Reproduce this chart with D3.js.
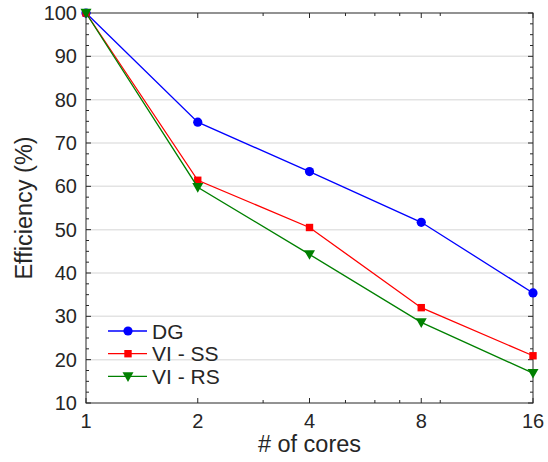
<!DOCTYPE html>
<html>
<head>
<meta charset="utf-8">
<script src="https://cdn.jsdelivr.net/npm/d3@7"></script>
<style>
  body { margin: 0; background: #fff; }
  text { font-family: "Liberation Sans", Arial, Helvetica, sans-serif; fill: #262626; }
</style>
</head>
<body>
<svg id="chart"></svg>
<script>
// data
const cores = [1, 2, 4, 8, 16]
const dgEff = [100, 74.8, 63.4, 51.7, 35.4]
const ssEff = [100, 61.4, 50.5, 32.0, 20.9]
const rsEff = [100, 59.8, 44.3, 28.6, 16.9]
const seriesNames = ['DG', 'VI - SS', 'VI - RS']
const yTicks = [10, 20, 30, 40, 50, 60, 70, 80, 90, 100]
const xMinor = [3, 5, 6, 7, 9]

const totalWidth = 548, totalHeight = 462
const margin = {top: 13, right: 15, bottom: 59, left: 86}
const w = totalWidth - margin.left - margin.right,
      h = totalHeight - margin.top - margin.bottom

const svg = d3.select('#chart')
  .attr('width', totalWidth)
  .attr('height', totalHeight)

const g = svg.append('g')
  .attr('transform', 'translate(' + margin.left + ',' + margin.top + ')')

const x = d3.scaleLog().base(2).domain([1, 16]).range([0, w])
const y = d3.scaleLinear().domain([10, 100]).range([h, 0])

// grid
g.selectAll('.grid')
  .data(yTicks.filter(d => d > 10 && d < 100))
  .enter().append('line')
  .attr('x1', 0).attr('x2', w)
  .attr('y1', d => y(d)).attr('y2', d => y(d))
  .attr('stroke', '#e3e3e3')
  .attr('stroke-width', 1.5)

// minor y ticks every 2.5
const yMinor = d3.range(12.5, 100, 2.5).filter(d => d % 10 != 0)
const axisCol = '#262626'

function tickLines(sel, data, len, side) {
  sel.selectAll(null).data(data).enter().append('line')
    .attr('x1', side == 'l' ? 0 : side == 'r' ? w : d => x(d))
    .attr('x2', side == 'l' ? len : side == 'r' ? w - len : d => x(d))
    .attr('y1', side == 'b' ? h : side == 't' ? 0 : d => y(d))
    .attr('y2', side == 'b' ? h - len : side == 't' ? len : d => y(d))
    .attr('stroke', axisCol)
    .attr('stroke-width', 1)
}
tickLines(g, yTicks, 5, 'l')
tickLines(g, yTicks, 5, 'r')
tickLines(g, yMinor, 3, 'l')
tickLines(g, yMinor, 3, 'r')
tickLines(g, cores, 5, 'b')
tickLines(g, cores, 5, 't')
tickLines(g, xMinor, 3, 'b')
tickLines(g, xMinor, 3, 't')

// box
g.append('rect')
  .attr('width', w).attr('height', h)
  .attr('fill', 'none')
  .attr('stroke', axisCol)
  .attr('stroke-width', 1)

// tick labels
g.selectAll('.ylbl').data(yTicks).enter().append('text')
  .attr('x', -9)
  .attr('y', d => y(d))
  .attr('dy', '0.35em')
  .attr('text-anchor', 'end')
  .style('font-size', '20px')
  .text(d => d)

g.selectAll('.xlbl').data(cores).enter().append('text')
  .attr('x', d => x(d))
  .attr('y', h + 25)
  .attr('text-anchor', 'middle')
  .style('font-size', '20px')
  .text(d => d)

// axis labels
g.append('text')
  .attr('x', w / 2)
  .attr('y', h + 49)
  .attr('text-anchor', 'middle')
  .style('font-size', '23.5px')
  .text('# of cores')

g.append('text')
  .attr('transform', 'translate(-54,' + (h / 2) + ') rotate(-90)')
  .attr('text-anchor', 'middle')
  .style('font-size', '23.5px')
  .text('Efficiency (%)')

// series
const series = [
  {name: seriesNames[0], vals: dgEff, color: '#0000ff', shape: 'circle'},
  {name: seriesNames[1], vals: ssEff, color: '#ff0000', shape: 'square'},
  {name: seriesNames[2], vals: rsEff, color: '#008000', shape: 'tri'}
]

const line = d3.line().x(d => x(d[0])).y(d => y(d[1]))

function marker(sel, shape, color) {
  if (shape == 'circle') {
    sel.append('circle').attr('r', 4.6).attr('fill', color)
  } else if (shape == 'square') {
    sel.append('rect').attr('x', -3.7).attr('y', -3.7).attr('width', 7.4).attr('height', 7.4).attr('fill', color)
  } else {
    sel.append('path').attr('d', 'M-5.5,-4.2L5.5,-4.2L0,5.5Z').attr('fill', color)
  }
}

series.forEach(s => {
  const pts = cores.map((c, i) => [c, s.vals[i]])
  g.append('path')
    .datum(pts)
    .attr('d', line)
    .attr('fill', 'none')
    .attr('stroke', s.color)
    .attr('stroke-width', 1.3)
  pts.forEach(p => {
    const m = g.append('g').attr('transform', 'translate(' + x(p[0]) + ',' + y(p[1]) + ')')
    marker(m, s.shape, s.color)
  })
})

// legend
const leg = g.append('g').attr('transform', 'translate(22,318)')
series.forEach((s, i) => {
  const row = leg.append('g').attr('transform', 'translate(0,' + (i * 22.7) + ')')
  row.append('line')
    .attr('x1', 0).attr('x2', 39)
    .attr('stroke', s.color).attr('stroke-width', 1.3)
  const m = row.append('g').attr('transform', 'translate(20,0)')
  marker(m, s.shape, s.color)
  row.append('text')
    .attr('x', 44)
    .attr('dy', '0.36em')
    .style('font-size', '21px')
    .text(s.name)
})
</script>
</body>
</html>
